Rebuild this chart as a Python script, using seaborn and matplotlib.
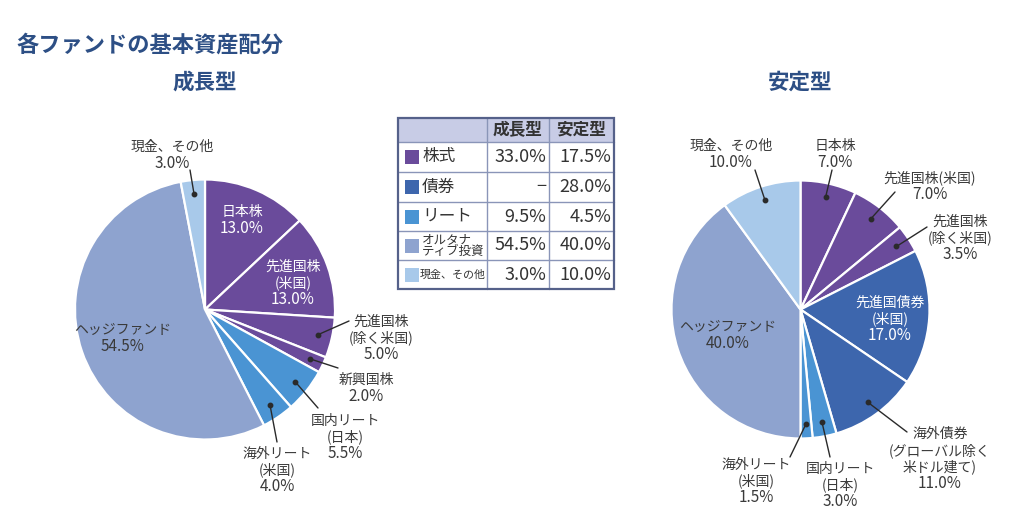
import matplotlib
matplotlib.use("Agg")
import matplotlib.pyplot as plt
import seaborn as sns
import numpy as np
from matplotlib.patches import Rectangle

# ---------------- data ----------------
title = "各ファンドの基本資産配分"
fund_names = ["成長型", "安定型"]

growth_labels = ["日本株", "先進国株\n(米国)", "先進国株\n(除く米国)", "新興国株",
                 "国内リート\n(日本)", "海外リート\n(米国)", "ヘッジファンド", "現金、その他"]
growth_values = [13.0, 13.0, 5.0, 2.0, 5.5, 4.0, 54.5, 3.0]
growth_classes = ["株式", "株式", "株式", "株式", "リート", "リート", "オルタナ", "現金"]

stable_labels = ["日本株", "先進国株(米国)", "先進国株\n(除く米国)", "先進国債券\n(米国)",
                 "海外債券\n(グローバル除く\n米ドル建て)", "国内リート\n(日本)", "海外リート\n(米国)",
                 "ヘッジファンド", "現金、その他"]
stable_values = [7.0, 7.0, 3.5, 17.0, 11.0, 3.0, 1.5, 40.0, 10.0]
stable_classes = ["株式", "株式", "株式", "債券", "債券", "リート", "リート", "オルタナ", "現金"]

table_keys = ["株式", "債券", "リート", "オルタナ", "現金"]
table_names = ["株式", "債券", "リート", "オルタナ\nティブ投資", "現金、その他"]
table_growth = [33.0, None, 9.5, 54.5, 3.0]
table_stable = [17.5, 28.0, 4.5, 40.0, 10.0]

# ---------------- style ----------------
sns.set_theme(style="white")
plt.rcParams['font.family'] = ['Noto Sans CJK JP', 'DejaVu Sans']

palette = dict(zip(table_keys, sns.color_palette(
    ["#6a4b9b", "#3d66ad", "#4a94d3", "#8ea3cf", "#a8c9ea"])))
TITLE_C = "#2d4f85"
TEXT_C = "#3a3a3a"
LINE_C = "#2a2a2a"
TABLE_TXT = "#333333"

W, H = 1024, 528
fig = plt.figure(figsize=(W / 100, H / 100), dpi=100)
ax = fig.add_axes([0, 0, 1, 1])


def Y(py):
    return H - py


# layout: (mode, text x px, text y px, line end x, line end y, text colour)
growth_layout = [
    ("in", 242, 220, None, None, "white"),
    ("in", 293, 283, None, None, "white"),
    ("out", 381, 338, 349, 321, TEXT_C),
    ("out", 366, 388, 338, 368, TEXT_C),
    ("out", 345, 437, 318, 408, TEXT_C),
    ("out", 277, 470, 277, 442, TEXT_C),
    ("in", 123, 338, None, None, TEXT_C),
    ("out", 172, 155, 190, 170, TEXT_C),
]
stable_layout = [
    ("out", 835, 154, 832, 170, TEXT_C),
    ("out", 930, 186, 895, 192, TEXT_C),
    ("out", 960, 238, 927, 227, TEXT_C),
    ("in", 890, 319, None, None, "white"),
    ("out", 940, 459, 907, 432, TEXT_C),
    ("out", 840, 485, 830, 457, TEXT_C),
    ("out", 756, 481, 790, 457, TEXT_C),
    ("in", 728, 335, None, None, TEXT_C),
    ("out", 731, 154, 755, 170, TEXT_C),
]

FS_NAME = 10
FS_PCT = 11
PITCH = 16.5


def label_block(tx, ty, lab, v, col):
    lines = lab.split("\n") + [f"{v:.1f}%"]
    n = len(lines)
    for k, line in enumerate(lines):
        yy = ty + (k - (n - 1) / 2) * PITCH
        fs = FS_PCT if k == n - 1 else FS_NAME
        ax.text(tx, Y(yy), line, ha="center", va="center", fontsize=fs, color=col)


def draw_pie(cx, cy, r, labels, values, classes, layout, name):
    center = (cx, Y(cy))
    wedges, _ = ax.pie(values, colors=[palette[c] for c in classes], startangle=90,
                       counterclock=False, center=center, radius=r,
                       wedgeprops=dict(edgecolor="white", linewidth=1.6))
    for w, lab, v, lay in zip(wedges, labels, values, layout):
        mode, tx, ty, lx, ly, col = lay
        label_block(tx, ty, lab, v, col)
        if mode == "out":
            th = np.deg2rad((w.theta1 + w.theta2) / 2)
            dx = center[0] + r * 0.89 * np.cos(th)
            dy = center[1] + r * 0.89 * np.sin(th)
            ax.plot([dx, lx], [dy, Y(ly)], color=LINE_C, lw=1.0, solid_capstyle="round")
            ax.plot([dx], [dy], "o", color=LINE_C, ms=3.2)
    ax.text(cx, Y(82), name, ha="center", va="center", fontsize=15.5,
            fontweight="bold", color=TITLE_C)


draw_pie(205, 309.5, 130, growth_labels, growth_values, growth_classes, growth_layout, fund_names[0])
draw_pie(800.5, 309.5, 129, stable_labels, stable_values, stable_classes, stable_layout, fund_names[1])

# title
ax.text(16, Y(45), title, ha="left", va="center", fontsize=16, fontweight="bold", color=TITLE_C)

# ---------------- table ----------------
x0, x1, x2, x3 = 398, 487, 549, 614
row_edges = [118, 142, 172, 202, 231, 260, 289]
GRID_C = "#8a95b8"
BORDER_C = "#55618a"

ax.add_patch(Rectangle((x0, Y(row_edges[1])), x3 - x0, row_edges[1] - row_edges[0],
                       facecolor="#c8cce6", edgecolor="none", zorder=3))
for ye in row_edges[1:-1]:
    ax.plot([x0, x3], [Y(ye), Y(ye)], color=GRID_C, lw=1.0, zorder=4)
for xe in (x1, x2):
    ax.plot([xe, xe], [Y(row_edges[0]), Y(row_edges[-1])], color=GRID_C, lw=1.0, zorder=4)
ax.add_patch(Rectangle((x0, Y(row_edges[-1])), x3 - x0, row_edges[-1] - row_edges[0],
                       facecolor="none", edgecolor=BORDER_C, lw=1.6, zorder=5))

hy = (row_edges[0] + row_edges[1]) / 2
ax.text((x1 + x2) / 2, Y(hy), fund_names[0], ha="center", va="center", fontsize=12,
        fontweight="bold", color=TABLE_TXT, zorder=6)
ax.text((x2 + x3) / 2, Y(hy), fund_names[1], ha="center", va="center", fontsize=12,
        fontweight="bold", color=TABLE_TXT, zorder=6)

for i, (key, nm, g, s) in enumerate(zip(table_keys, table_names, table_growth, table_stable)):
    yc = (row_edges[i + 1] + row_edges[i + 2]) / 2
    ax.add_patch(Rectangle((405, Y(yc + 7)), 14, 14, facecolor=palette[key],
                           edgecolor="none", zorder=6))
    if "\n" in nm:
        ax.text(422, Y(yc), nm, ha="left", va="center", fontsize=9, color=TABLE_TXT,
                linespacing=0.95, zorder=6)
    elif len(nm) > 4:
        ax.text(420, Y(yc), nm, ha="left", va="center", fontsize=7.9,
                color=TABLE_TXT, zorder=6)
    else:
        ax.text(422, Y(yc), nm, ha="left", va="center", fontsize=12, color=TABLE_TXT, zorder=6)
    gtxt = "−" if g is None else f"{g:.1f}%"
    ax.text(x2 - 3, Y(yc), gtxt, ha="right", va="center", fontsize=13, color=TABLE_TXT, zorder=6)
    ax.text(x3 - 3, Y(yc), f"{s:.1f}%", ha="right", va="center", fontsize=13,
            color=TABLE_TXT, zorder=6)

# fix the pixel coordinate frame (ax.pie resets limits)
ax.set_xlim(0, W)
ax.set_ylim(0, H)
ax.set_aspect('equal')
ax.axis('off')

fig.savefig("out.png", dpi=100, facecolor="white")
